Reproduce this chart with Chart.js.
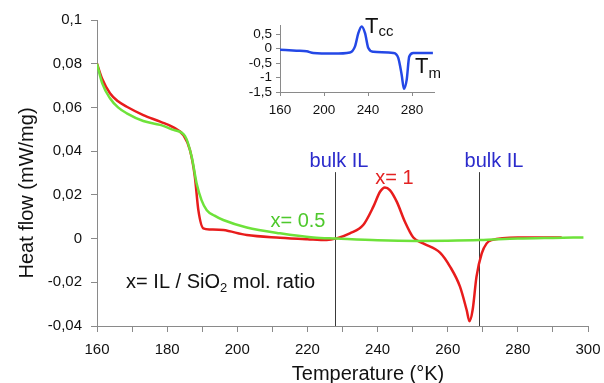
<!DOCTYPE html>
<html>
<head>
<meta charset="utf-8">
<script src="https://cdn.jsdelivr.net/npm/chart.js@4.4.1/dist/chart.umd.min.js"></script>
<style>
  body { margin: 0; background: #fff; }
  #wrap { position: relative; width: 604px; height: 383px; }
  #mainChart { position: absolute; left: 0; top: 0; }
  #insetChart { position: absolute; left: 220px; top: 0; }
</style>
</head>
<body>
<div id="wrap">
  <canvas id="mainChart" width="604" height="383"></canvas>
  <canvas id="insetChart" width="230" height="125"></canvas>
</div>
<script>
// x = 1 (red)
const redT = [160, 161.5, 163.7, 166, 168.5, 173.2, 178, 181.8, 184.6, 186.5, 187.9, 188.9, 190.3,
  192.2, 196, 202.7, 212.2, 220, 225.5, 228.3, 232.1, 235.9, 238.8, 240.7, 242.1, 243.5, 245.5,
  247.8, 250.2, 253, 257.8, 260.7, 263.5, 265.4, 266.2, 267.1, 268.2, 269.7, 271.1, 272.5, 280, 292.5];
const redV = [0.080, 0.073, 0.0665, 0.0628, 0.0603, 0.0565, 0.0535, 0.0509, 0.0474, 0.0405, 0.0283, 0.013, 0.0047,
  0.0042, 0.0039, 0.0016, 0.0004, -0.0003, -0.0007, 0.0001, 0.0024, 0.0062, 0.0146, 0.0214, 0.0234, 0.0222, 0.0168,
  0.0077, 0.0005, -0.0022, -0.0064, -0.0129, -0.022, -0.0327, -0.0378, -0.0327, -0.0175, -0.0068, -0.0022, -0.0007, 0.0005, 0.0005];

// x = 0.5 (green)
const greenT = [160, 161.5, 163.7, 166, 168.5, 173.2, 178, 181.8, 185.1, 187, 188.4, 189.8, 191.3,
  193.5, 196, 202.7, 212.2, 221.7, 228.3, 240, 251.1, 260, 269.2, 280, 290, 298.7];
const greenV = [0.080, 0.071, 0.0642, 0.060, 0.0573, 0.0538, 0.052, 0.0497, 0.0469, 0.0374, 0.0253, 0.0176, 0.013,
  0.0105, 0.0085, 0.0051, 0.0024, 0.0005, 0, -0.0008, -0.0011, -0.001, -0.0007, 0, 0.0003, 0.0005];

// inset: bulk IL (blue)
const bulkT = [160, 175, 184.2, 190.3, 208.5, 223.6, 228.2, 231.2, 234.3, 237.3, 240.3, 244.8,
  263, 267.5, 270.6, 272.7, 275.2, 277.5, 281.2, 296.4, 299];
const bulkV = [-0.04, -0.07, -0.09, -0.15, -0.17, -0.13, 0.08, 0.54, 0.77, 0.54, 0.02, -0.11,
  -0.15, -0.32, -0.9, -1.39, -1.07, -0.27, -0.15, -0.15, -0.15];

// vertical "bulk IL" markers
const bulkLines = [228, 269];
const bulkLineTop = 0.0304;

const FONT = "'Liberation Sans', Arial, Helvetica, sans-serif";
const AXIS_GRAY = "#8a8a8a";

const toPoints = (xs, ys) => xs.map((x, i) => ({ x: x, y: ys[i] }));
const comma = (v) => v.toString().replace(".", ",");

function drawText(ctx, text, x, y, size, color, align) {
  ctx.font = size + "px " + FONT;
  ctx.fillStyle = color;
  ctx.textAlign = align || "left";
  ctx.textBaseline = "alphabetic";
  ctx.fillText(text, x, y);
}

// keep tick labels from pushing the plot area in
function noSidePad(scale) {
  scale.paddingLeft = 0;
  scale.paddingRight = 0;
}

const mainLabels = {
  id: "mainLabels",
  beforeDatasetsDraw(chart) {
    const ctx = chart.ctx;
    const xs = chart.scales.x;
    const ys = chart.scales.y;
    ctx.save();
    ctx.strokeStyle = "#3a3a3a";
    ctx.lineWidth = 1;
    bulkLines.forEach((t) => {
      const px = Math.round(xs.getPixelForValue(t)) + 0.5;
      ctx.beginPath();
      ctx.moveTo(px, ys.getPixelForValue(bulkLineTop));
      ctx.lineTo(px, chart.chartArea.bottom);
      ctx.stroke();
    });
    ctx.restore();
  },
  afterDraw(chart) {
    const ctx = chart.ctx;
    const xs = chart.scales.x;
    const ys = chart.scales.y;
    ctx.save();
    // axis titles
    drawText(ctx, "Temperature (°K)", 368, 380, 20, "#111", "center");
    ctx.save();
    ctx.translate(33, 193);
    ctx.rotate(-Math.PI / 2);
    drawText(ctx, "Heat flow (mW/mg)", 0, 0, 20, "#111", "center");
    ctx.restore();

    // annotations
    drawText(ctx, "bulk IL", xs.getPixelForValue(229), ys.getPixelForValue(0.0329), 20, "#2b2bcc", "center");
    drawText(ctx, "bulk IL", xs.getPixelForValue(273.2), ys.getPixelForValue(0.0329), 20, "#2b2bcc", "center");
    drawText(ctx, "x= 1", xs.getPixelForValue(244.8), ys.getPixelForValue(0.0249), 20, "#e32222", "center");
    drawText(ctx, "x= 0.5", xs.getPixelForValue(217.3), ys.getPixelForValue(0.0054), 20, "#4ec82c", "center");

    // x= IL / SiO2 mol. ratio
    let px = xs.getPixelForValue(168.3);
    const py = ys.getPixelForValue(-0.0228);
    ctx.font = "20px " + FONT;
    const part1 = "x= IL / SiO";
    drawText(ctx, part1, px, py, 20, "#111");
    px += ctx.measureText(part1).width;
    ctx.font = "13px " + FONT;
    drawText(ctx, "2", px, py + 4, 13, "#111");
    px += ctx.measureText("2").width;
    drawText(ctx, " mol. ratio", px, py, 20, "#111");
    ctx.restore();
  },
};

new Chart(document.getElementById("mainChart"), {
  type: "line",
  data: {
    datasets: [
      {
        label: "x= 0.5",
        data: toPoints(greenT, greenV),
        borderColor: "#6ee23a",
        borderWidth: 2.5,
        pointRadius: 0,
        cubicInterpolationMode: "monotone",
      },
      {
        label: "x= 1",
        data: toPoints(redT, redV),
        borderColor: "#e81c1c",
        borderWidth: 2.5,
        pointRadius: 0,
        cubicInterpolationMode: "monotone",
      },
    ],
  },
  options: {
    responsive: false,
    animation: false,
    devicePixelRatio: 1,
    layout: { padding: { left: 0, right: 16, top: 20, bottom: 0 } },
    scales: {
      x: {
        type: "linear",
        min: 160,
        max: 300,
        afterFit(scale) { scale.height = 57; noSidePad(scale); },
        border: { color: AXIS_GRAY, width: 1 },
        grid: { drawOnChartArea: false, drawTicks: true, tickLength: 6, color: AXIS_GRAY },
        ticks: {
          stepSize: 10,
          autoSkip: false,
          maxRotation: 0,
          padding: 9,
          color: "#111",
          font: { family: FONT, size: 15 },
          callback: (v) => (v % 20 === 0 ? v : ""),
        },
      },
      y: {
        min: -0.04,
        max: 0.1,
        afterFit(scale) { scale.width = 97; },
        border: { color: AXIS_GRAY, width: 1 },
        grid: { drawOnChartArea: false, drawTicks: true, tickLength: 6, color: AXIS_GRAY },
        ticks: {
          stepSize: 0.02,
          autoSkip: false,
          padding: 9,
          color: "#111",
          font: { family: FONT, size: 15 },
          callback: (v) => comma(v),
        },
      },
    },
    plugins: {
      legend: { display: false },
      tooltip: { enabled: false },
    },
  },
  plugins: [mainLabels],
});

const insetLabels = {
  id: "insetLabels",
  afterDraw(chart) {
    const ctx = chart.ctx;
    const xs = chart.scales.x;
    const ys = chart.scales.y;
    ctx.save();
    let px = xs.getPixelForValue(237.3);
    let py = ys.getPixelForValue(0.55);
    ctx.font = "22px " + FONT;
    drawText(ctx, "T", px, py, 22, "#111");
    px += ctx.measureText("T").width;
    drawText(ctx, "cc", px, py + 3, 15, "#111");

    px = xs.getPixelForValue(282.7);
    py = ys.getPixelForValue(-0.83);
    ctx.font = "22px " + FONT;
    drawText(ctx, "T", px, py, 22, "#111");
    px += ctx.measureText("T").width;
    drawText(ctx, "m", px, py + 5, 15, "#111");
    ctx.restore();
  },
};

new Chart(document.getElementById("insetChart"), {
  type: "line",
  data: {
    datasets: [
      {
        label: "bulk IL",
        data: toPoints(bulkT, bulkV),
        borderColor: "#2448e6",
        borderWidth: 2.5,
        pointRadius: 0,
        cubicInterpolationMode: "monotone",
      },
    ],
  },
  options: {
    responsive: false,
    animation: false,
    devicePixelRatio: 1,
    layout: { padding: { left: 0, right: 16, top: 25, bottom: 0 } },
    scales: {
      x: {
        type: "linear",
        min: 160,
        max: 300,
        afterFit(scale) { scale.height = 33; noSidePad(scale); },
        border: { color: AXIS_GRAY, width: 1 },
        grid: { drawOnChartArea: false, drawTicks: true, tickLength: 4, color: AXIS_GRAY },
        ticks: {
          stepSize: 40,
          includeBounds: false,
          autoSkip: false,
          maxRotation: 0,
          padding: 6,
          color: "#111",
          font: { family: FONT, size: 13.5 },
        },
      },
      y: {
        min: -1.5,
        max: 0.82,
        afterFit(scale) { scale.width = 60; },
        border: { color: AXIS_GRAY, width: 1 },
        grid: { drawOnChartArea: false, drawTicks: true, tickLength: 4, color: AXIS_GRAY },
        ticks: {
          stepSize: 0.5,
          includeBounds: false,
          autoSkip: false,
          padding: 4,
          color: "#111",
          font: { family: FONT, size: 13.5 },
          callback: (v) => comma(v),
        },
      },
    },
    plugins: {
      legend: { display: false },
      tooltip: { enabled: false },
    },
  },
  plugins: [insetLabels],
});
</script>
</body>
</html>
